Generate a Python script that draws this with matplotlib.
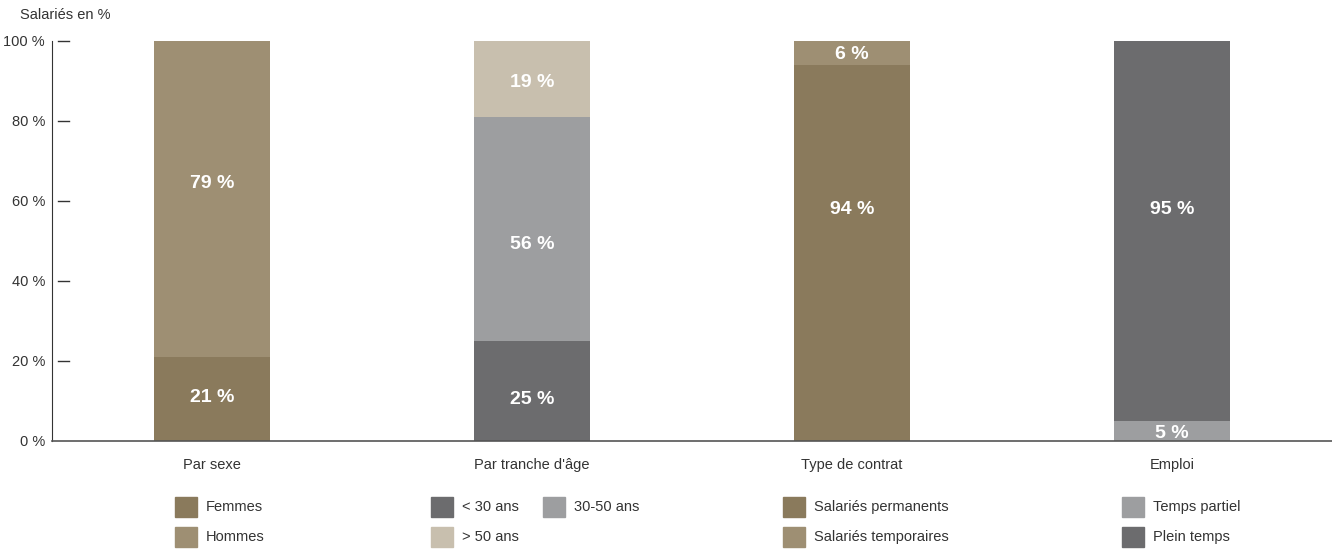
import matplotlib
matplotlib.use('Agg')
import matplotlib.pyplot as plt
from matplotlib.patches import Rectangle

plt.rcParams['font.family'] = ['Liberation Sans', 'DejaVu Sans']

# data
categories = ['Par sexe', "Par tranche d'âge", 'Type de contrat', 'Emploi']
sexe = [('Femmes', 21), ('Hommes', 79)]
age = [('< 30 ans', 25), ('30-50 ans', 56), ('> 50 ans', 19)]
contrat = [('Salariés permanents', 94), ('Salariés temporaires', 6)]
emploi = [('Temps partiel', 5), ('Plein temps', 95)]
segments = [sexe, age, contrat, emploi]
yticks = [0, 20, 40, 60, 80, 100]
ytick_labels = ['0 %', '20 %', '40 %', '60 %', '80 %', '100 %']

# where the value labels sit (in % units), as in the original
label_at = [[11.25, 64.75], [10.75, 49.5, 90], [58.25, 97], [2.25, 58.25]]

colors = {
    'Femmes': '#8a7a5c', 'Hommes': '#9e8f73',
    '< 30 ans': '#6c6c6e', '30-50 ans': '#9d9ea0', '> 50 ans': '#c8bfae',
    'Salariés permanents': '#8a7a5c', 'Salariés temporaires': '#9e8f73',
    'Temps partiel': '#9d9ea0', 'Plein temps': '#6c6c6e',
}

W, H = 1332, 550
fig = plt.figure(figsize=(W / 100, H / 100), dpi=100)
ax = fig.add_axes([52 / W, (H - 441) / H, 1 - 52 / W, 400 / H])

for i, segs in enumerate(segments):
    bottom = 0
    for j, (name, val) in enumerate(segs):
        ax.bar(i, val, bottom=bottom, width=0.3625, color=colors[name], zorder=2)
        ax.text(i, label_at[i][j], f'{val} %', ha='center', va='center_baseline',
                color='white', fontsize=14, fontweight='bold', zorder=3)
        bottom += val

ax.set_xlim(-0.5, 3.5)
ax.set_ylim(0, 100)
for s in ['top', 'right']:
    ax.spines[s].set_visible(False)
ax.spines['left'].set_color('#333333')
ax.spines['bottom'].set_color('#555555')
ax.spines['bottom'].set_linewidth(1.2)

ax.set_yticks(yticks)
ax.set_yticklabels(ytick_labels, fontsize=10.5, color='#333333')
ax.tick_params(axis='y', length=0, pad=5)
for t in yticks[1:]:
    ax.plot([0.0045, 0.0135], [t, t], transform=ax.get_yaxis_transform(),
            color='#333333', lw=1, clip_on=False, zorder=4)

ax.set_xticks(range(len(categories)))
ax.set_xticklabels(categories, fontsize=10.5, color='#333333')
ax.tick_params(axis='x', length=0, pad=12)

fig.text(20 / W, 1 - 15 / H, 'Salariés en %', fontsize=10.5, color='#333333', va='center')

# legends
def legend_item(x, y, name):
    fig.add_artist(Rectangle((x / W, 1 - (y + 10) / H), 22 / W, 20 / H,
                             transform=fig.transFigure, color=colors[name]))
    fig.text((x + 31) / W, 1 - y / H, name, fontsize=10.5, color='#333333', va='center')

legend_item(175, 507, 'Femmes')
legend_item(175, 537, 'Hommes')
legend_item(431, 507, '< 30 ans')
legend_item(543, 507, '30-50 ans')
legend_item(431, 537, '> 50 ans')
legend_item(783, 507, 'Salariés permanents')
legend_item(783, 537, 'Salariés temporaires')
legend_item(1122, 507, 'Temps partiel')
legend_item(1122, 537, 'Plein temps')

plt.savefig('out.png', dpi=100)
plt.close()
